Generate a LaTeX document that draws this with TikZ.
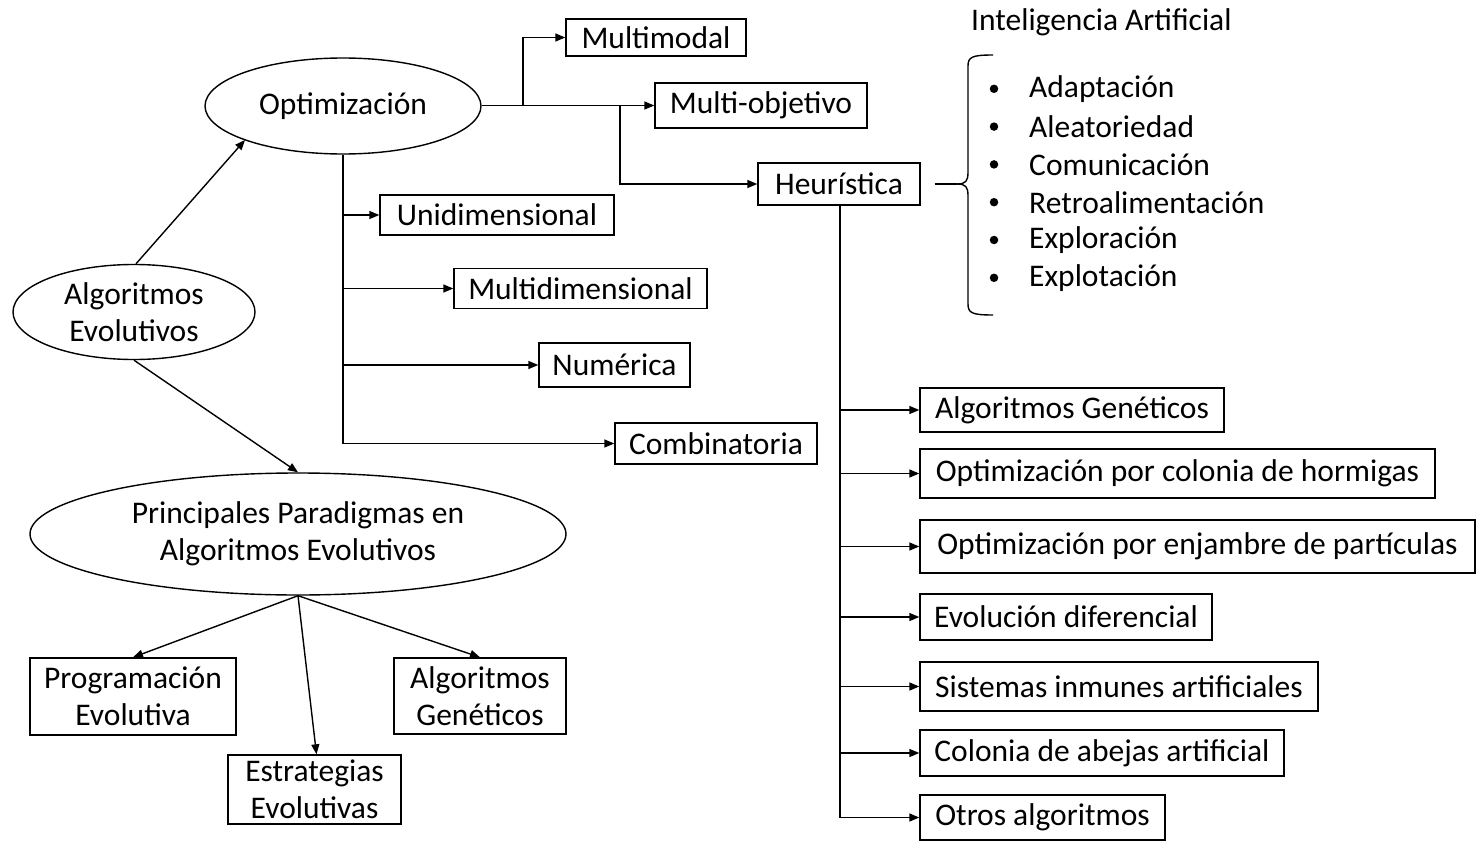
\documentclass[tikz,border=0pt]{standalone}
\usepackage{fontspec}
\setmainfont{Carlito}
\usetikzlibrary{arrows.meta,shapes.geometric,calc}
\begin{document}
\begin{tikzpicture}[x=1pt,y=-1pt,
  every node/.style={font=\fontsize{31.5}{37}\selectfont, inner sep=0pt},
  bx/.style={draw, line width=1.4pt, align=center},
  el/.style={draw, ellipse, line width=1.4pt, align=center},
  arr/.style={line width=1.4pt, -{Triangle[length=10pt,width=8pt]}},
  ln/.style={line width=1.4pt},
  dot/.style={circle, fill=black, minimum size=8.5pt},
  txt/.style={anchor=west}]
\useasboundingbox (0,0) rectangle (1480,851);
% ellipses
\node[el, minimum width=276pt, minimum height=96pt] (opt) at (343,106) {Optimización};
\node[el, minimum width=242pt, minimum height=95pt] (ae) at (134,312) {Algoritmos\\Evolutivos};
\node[el, minimum width=536pt, minimum height=122pt] (pp) at (298,534) {Principales Paradigmas en\\Algoritmos Evolutivos};
% optimization branches
\node[bx, minimum width=180pt, minimum height=37pt] (mm) at (656,37.5) {Multimodal};
\node[bx, minimum width=212pt, minimum height=45pt] (mo) at (761,105.5) {Multi-objetivo};
\node[bx, minimum width=162pt, minimum height=42pt] (heu) at (839,184) {Heurística};
\node[bx, minimum width=234pt, minimum height=40pt] (uni) at (497,215) {Unidimensional};
\node[bx, minimum width=253pt, minimum height=40pt] (mul) at (580.5,288.5) {Multidimensional};
\node[bx, minimum width=151pt, minimum height=44pt] (num) at (614.5,365) {Numérica};
\node[bx, minimum width=202pt, minimum height=41pt] (comb) at (716,443.5) {Combinatoria};
% paradigms
\node[bx, minimum width=206pt, minimum height=77pt] (pe) at (133,696.5) {Programación\\Evolutiva};
\node[bx, minimum width=173pt, minimum height=69pt] (ee) at (314.5,789.5) {Estrategias\\Evolutivas};
\node[bx, minimum width=172pt, minimum height=76pt] (agl) at (480,696) {Algoritmos\\Genéticos};
% heuristic list
\node[bx, minimum width=304pt, minimum height=44pt] (h1) at (1072,410) {Algoritmos Genéticos};
\node[bx, minimum width=515pt, minimum height=49pt] (h2) at (1177.5,473.5) {Optimización por colonia de hormigas};
\node[bx, minimum width=555pt, minimum height=53pt] (h3) at (1197.5,546.5) {Optimización por enjambre de partículas};
\node[bx, minimum width=292pt, minimum height=46pt] (h4) at (1066,617) {Evolución diferencial};
\node[bx, minimum width=398pt, minimum height=49pt] (h5) at (1119,686.5) {Sistemas inmunes artificiales};
\node[bx, minimum width=364pt, minimum height=46pt] (h6) at (1102,753) {Colonia de abejas artificial};
\node[bx, minimum width=245pt, minimum height=45pt] (h7) at (1042.5,817.5) {Otros algoritmos};
% IA text
\node[txt] (ia) at (971,22) {Inteligencia Artificial};
\foreach \t [count=\i] in {Adaptación,Aleatoriedad,Comunicación,Retroalimentación,Exploración,Explotación}{
  \node[dot] (b\i) at (994,{51+37.8*\i}) {};
  \node[txt] (l\i) at (1029,{51+37.8*\i}) {\t};
}
% connectors
\draw[arr] ([xshift=2pt]ae.north) -- (245,140);
\draw[arr] (ae.south) -- (pp.north);
\draw[arr] (pp.south) -- (pe.north);
\draw[arr] (pp.south) -- ([xshift=2pt]ee.north);
\draw[arr] (pp.south) -- (agl.north);
\coordinate (j1) at (523,105.5);
\coordinate (j2) at (620,105.5);
\draw[arr] (opt.east |- mo.west) -- (mo.west);
\draw[arr] (j1) |- (mm.west);
\draw[arr] (j2) |- (heu.west);
\draw[arr] (opt.south) |- (comb.west);
\draw[arr] (opt.south |- uni.west) -- (uni.west);
\draw[arr] (opt.south |- mul.west) -- (mul.west);
\draw[arr] (opt.south |- num.west) -- (num.west);
\coordinate (hv) at (840,205);
\draw[arr] (hv) |- (h7.west);
\foreach \n in {h1,h2,h3,h4,h5,h6}{\draw[arr] (hv |- \n.west) -- (\n.west);}
% brace
\coordinate (bt) at (957,184);
\draw[ln] ([xshift=14pt]heu.east) -- (bt);
\draw[ln] (bt) .. controls (966,184) and (968,181) .. (968,172) -- (968,66) .. controls (968,57) and (972,55) .. (993,55);
\draw[ln] (bt) .. controls (966,184) and (968,187) .. (968,196) -- (968,304) .. controls (968,313) and (972,315) .. (993,315);
\end{tikzpicture}
\end{document}
